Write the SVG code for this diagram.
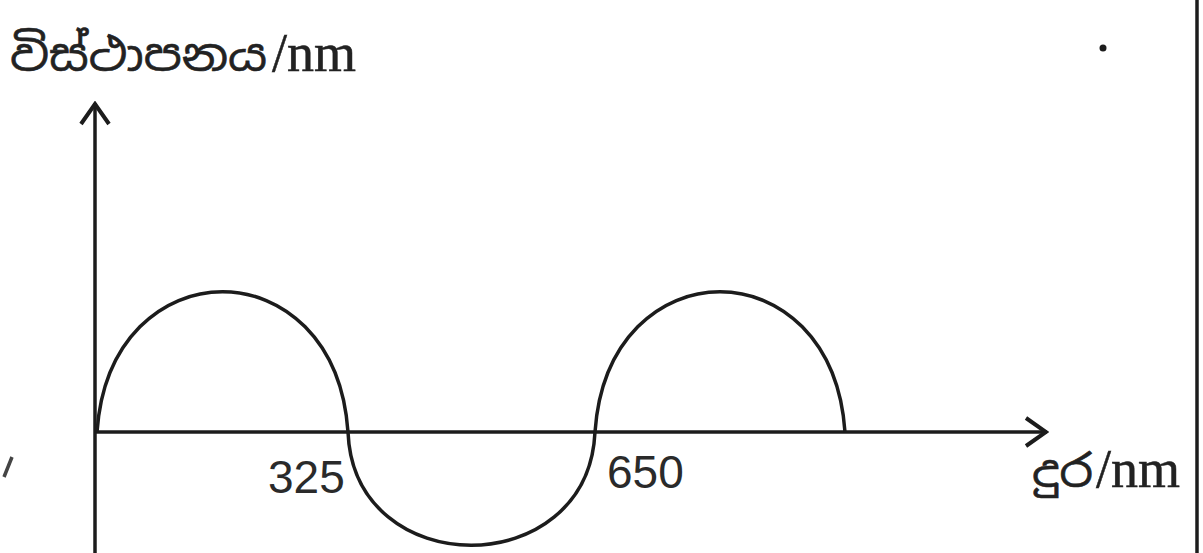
<svg xmlns="http://www.w3.org/2000/svg" width="1203" height="553" viewBox="0 0 1203 553">
<style>
.ax{stroke:#1c1c1c;stroke-width:3.5;fill:none}
.wave{stroke:#1c1c1c;stroke-width:3.5;fill:none}
.num{font-family:"Liberation Sans",Arial,sans-serif;font-size:46px;fill:#2a2a2a}
.sin{font-family:"Noto Sans Sinhala","Noto Serif Sinhala","Noto Sans",sans-serif;font-size:44px;fill:#222;stroke:#222;stroke-width:0.6}
.unit{font-family:"Liberation Serif","Times New Roman",serif;font-size:54px;fill:#222;stroke:#222;stroke-width:0.5}
</style>
<defs>
<marker id="arr" viewBox="0 0 26 32" refX="24" refY="16" markerWidth="26" markerHeight="32" markerUnits="userSpaceOnUse" orient="auto">
<path d="M3,2 L23,16 L3,30" fill="none" stroke="#1c1c1c" stroke-width="4"/>
</marker>
</defs>
<rect width="1203" height="553" fill="#fff"/>
<g id="connectors">
<line class="ax" x1="95" y1="553" x2="95" y2="103" marker-end="url(#arr)"/>
<line class="ax" x1="95" y1="432" x2="1047" y2="432" marker-end="url(#arr)"/>
</g>
<g id="wave">
<path class="wave" d="M97,432 C110,245 335,245 348,432 C354,583 588,583 595,432 C608,245 832,245 845,432"/>
</g>
<g id="y-label">
<text class="sin" x="10" y="71" textLength="257" lengthAdjust="spacingAndGlyphs">විස්ථාපනය</text>
<text class="unit" x="272" y="71">/nm</text>
</g>
<g id="x-label">
<text class="sin" x="1032" y="487" textLength="61" lengthAdjust="spacingAndGlyphs">දුර</text>
<text class="unit" x="1096" y="487">/nm</text>
</g>
<g id="tick-325"><text class="num" x="268" y="493">325</text></g>
<g id="tick-650"><text class="num" x="607" y="488">650</text></g>
<line x1="1197" y1="0" x2="1197" y2="553" stroke="#1c1c1c" stroke-width="3.5"/>
<circle cx="1103" cy="48" r="3.5" fill="#1c1c1c"/>
<line x1="12" y1="457" x2="4" y2="477" stroke="#444" stroke-width="3.5"/>
</svg>
